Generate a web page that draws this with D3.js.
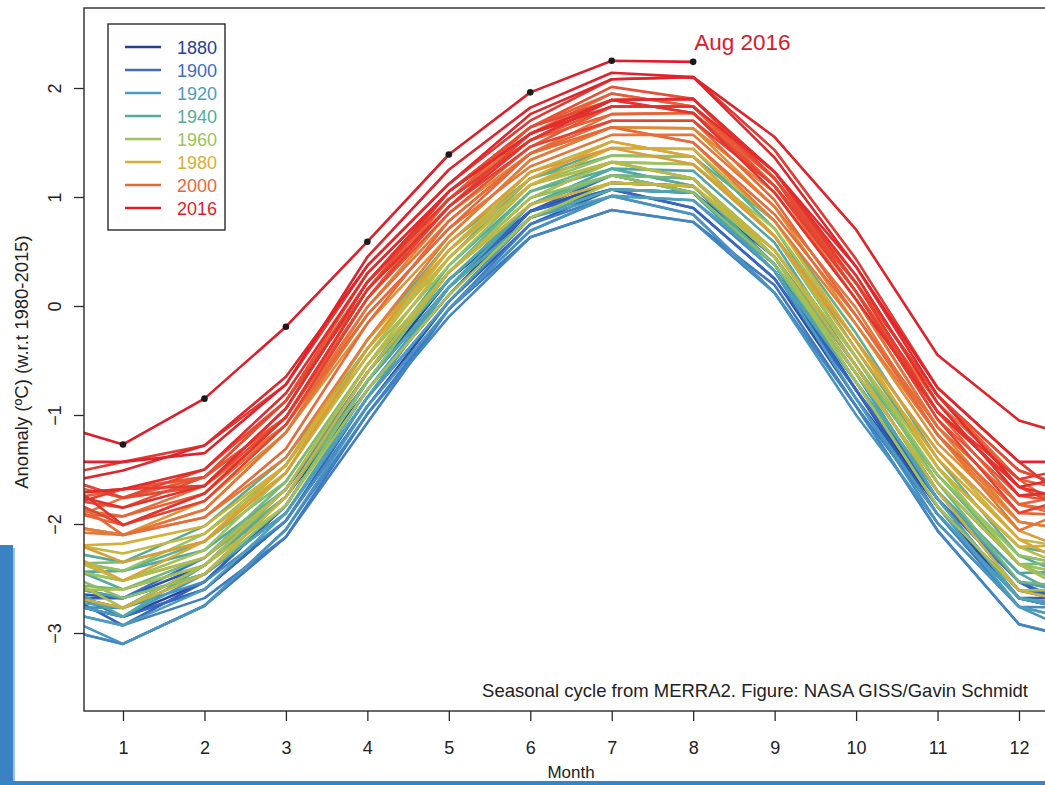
<!DOCTYPE html>
<html>
<head>
<meta charset="utf-8">
<script src="https://cdn.jsdelivr.net/npm/d3@7"></script>
<style>
  body { margin: 0; background: #fff; }
  svg { display: block; font-family: "Liberation Sans", Arial, sans-serif; }
</style>
</head>
<body>
<svg id="chart" width="1045" height="785"></svg>
<script>
// === Data ===
const months = [1, 2, 3, 4, 5, 6, 7, 8, 9, 10, 11, 12];
const yTicks = [-3, -2, -1, 0, 1, 2];

const years = [
  1880, 1883, 1886, 1889, 1892, 1895, 1898, 1901, 1904, 1907, 1910, 1913, 1916, 1919,
  1922, 1925, 1928, 1931, 1934, 1937, 1940, 1943, 1946, 1949, 1952, 1955, 1958, 1961,
  1964, 1967, 1970, 1973, 1976, 1979, 1982, 1985, 1988, 1991, 1994, 1996, 1997, 1998,
  1999, 2000, 2001, 2002, 2003, 2004, 2005, 2006, 2007, 2008, 2009, 2010, 2011, 2012,
  2013, 2014, 2015, 2016
];

// monthly anomaly (ºC), Jan..Dec ; 2016 only up to Aug
const anomalies = [
  [-2.77, -2.38, -1.75, -0.77, 0.10, 0.87, 1.13, 1.10, 0.38, -0.77, -1.84, -2.61],
  [-2.85, -2.53, -1.83, -0.69, 0.24, 0.87, 1.07, 1.04, 0.45, -0.62, -1.77, -2.68],
  [-2.85, -2.60, -1.97, -0.92, 0.04, 0.81, 1.07, 0.90, 0.25, -0.85, -1.84, -2.68],
  [-2.68, -2.38, -1.68, -0.61, 0.24, 0.87, 1.13, 1.10, 0.45, -0.55, -1.70, -2.61],
  [-2.68, -2.46, -1.90, -0.84, 0.04, 0.75, 1.07, 1.04, 0.38, -0.77, -1.91, -2.68],
  [-2.93, -2.53, -1.83, -0.69, 0.17, 0.87, 1.20, 1.04, 0.32, -0.77, -1.77, -2.53],
  [-2.85, -2.60, -1.97, -0.84, 0.17, 0.87, 1.07, 0.90, 0.25, -0.77, -1.77, -2.53],
  [-2.68, -2.31, -1.68, -0.69, 0.17, 0.93, 1.20, 1.17, 0.45, -0.70, -1.77, -2.53],
  [-3.10, -2.75, -2.12, -0.99, -0.03, 0.63, 0.88, 0.77, 0.19, -0.92, -2.06, -2.92],
  [-2.93, -2.68, -2.12, -1.07, -0.03, 0.75, 1.01, 0.84, 0.12, -0.92, -1.91, -2.76],
  [-3.10, -2.75, -2.05, -0.99, -0.10, 0.63, 0.88, 0.77, 0.12, -0.92, -2.06, -2.92],
  [-2.77, -2.53, -1.97, -0.92, -0.03, 0.69, 1.01, 0.97, 0.32, -0.85, -1.99, -2.76],
  [-3.10, -2.75, -2.05, -0.92, -0.03, 0.69, 1.01, 0.84, 0.12, -1.00, -1.99, -2.76],
  [-2.85, -2.46, -1.90, -0.84, 0.04, 0.81, 1.07, 1.04, 0.32, -0.85, -1.91, -2.68],
  [-2.93, -2.60, -1.90, -0.77, 0.17, 0.81, 1.01, 0.97, 0.38, -0.70, -1.84, -2.76],
  [-2.68, -2.46, -1.90, -0.84, 0.17, 0.93, 1.20, 1.04, 0.32, -0.70, -1.70, -2.53],
  [-2.77, -2.46, -1.75, -0.69, 0.17, 0.81, 1.07, 1.04, 0.38, -0.62, -1.77, -2.68],
  [-2.43, -2.24, -1.68, -0.61, 0.24, 0.93, 1.26, 1.24, 0.58, -0.55, -1.70, -2.45],
  [-2.85, -2.38, -1.75, -0.61, 0.24, 0.93, 1.26, 1.10, 0.38, -0.70, -1.70, -2.45],
  [-2.60, -2.38, -1.75, -0.61, 0.37, 1.05, 1.26, 1.10, 0.45, -0.55, -1.55, -2.29],
  [-2.35, -2.02, -1.39, -0.39, 0.44, 1.17, 1.45, 1.44, 0.71, -0.40, -1.48, -2.21],
  [-2.43, -2.16, -1.46, -0.31, 0.58, 1.17, 1.38, 1.37, 0.78, -0.25, -1.40, -2.29],
  [-2.52, -2.31, -1.75, -0.69, 0.31, 1.05, 1.32, 1.17, 0.45, -0.55, -1.55, -2.37],
  [-2.60, -2.31, -1.61, -0.54, 0.31, 0.93, 1.20, 1.17, 0.51, -0.47, -1.62, -2.53],
  [-2.35, -2.16, -1.61, -0.54, 0.31, 0.99, 1.32, 1.30, 0.64, -0.47, -1.62, -2.37],
  [-2.68, -2.46, -1.83, -0.69, 0.31, 0.99, 1.20, 1.04, 0.38, -0.62, -1.62, -2.37],
  [-2.43, -2.09, -1.46, -0.46, 0.37, 1.11, 1.38, 1.37, 0.64, -0.47, -1.55, -2.29],
  [-2.52, -2.24, -1.53, -0.39, 0.51, 1.11, 1.32, 1.30, 0.71, -0.32, -1.48, -2.37],
  [-2.60, -2.38, -1.83, -0.77, 0.10, 0.81, 1.13, 1.10, 0.45, -0.70, -1.84, -2.61],
  [-2.77, -2.38, -1.68, -0.54, 0.31, 0.99, 1.32, 1.17, 0.45, -0.62, -1.62, -2.37],
  [-2.52, -2.31, -1.68, -0.54, 0.44, 1.11, 1.32, 1.17, 0.51, -0.47, -1.48, -2.21],
  [-2.27, -2.09, -1.53, -0.46, 0.51, 1.23, 1.51, 1.37, 0.64, -0.32, -1.33, -2.14],
  [-2.77, -2.46, -1.75, -0.61, 0.31, 0.93, 1.13, 1.10, 0.51, -0.55, -1.70, -2.61],
  [-2.18, -2.02, -1.46, -0.39, 0.44, 1.11, 1.45, 1.44, 0.78, -0.32, -1.48, -2.21],
  [-2.52, -2.16, -1.46, -0.31, 0.51, 1.17, 1.51, 1.37, 0.64, -0.40, -1.40, -2.14],
  [-2.35, -2.16, -1.53, -0.39, 0.58, 1.23, 1.45, 1.30, 0.64, -0.32, -1.33, -2.06],
  [-2.10, -1.79, -1.16, -0.16, 0.64, 1.34, 1.64, 1.63, 0.91, -0.17, -1.26, -1.98],
  [-2.10, -1.87, -1.16, -0.01, 0.85, 1.40, 1.64, 1.63, 1.04, 0.06, -1.11, -1.98],
  [-2.10, -1.94, -1.39, -0.31, 0.64, 1.34, 1.64, 1.50, 0.78, -0.17, -1.18, -1.98],
  [-2.10, -1.87, -1.16, -0.08, 0.71, 1.28, 1.57, 1.57, 0.91, -0.02, -1.18, -2.06],
  [-1.76, -1.65, -1.09, -0.01, 0.78, 1.40, 1.76, 1.77, 1.10, 0.06, -1.11, -1.82],
  [-1.93, -1.65, -0.94, 0.22, 0.98, 1.58, 1.95, 1.83, 1.10, 0.13, -0.89, -1.59],
  [-2.10, -1.94, -1.31, -0.16, 0.78, 1.40, 1.64, 1.50, 0.84, -0.09, -1.11, -1.82],
  [-2.01, -1.72, -1.09, -0.08, 0.71, 1.40, 1.70, 1.70, 0.97, -0.09, -1.18, -1.90],
  [-1.93, -1.72, -1.02, 0.15, 0.98, 1.52, 1.76, 1.77, 1.17, 0.21, -0.97, -1.82],
  [-1.68, -1.57, -1.02, 0.07, 0.98, 1.64, 1.95, 1.83, 1.10, 0.21, -0.82, -1.59],
  [-1.76, -1.57, -0.87, 0.22, 0.98, 1.52, 1.83, 1.83, 1.17, 0.28, -0.89, -1.74],
  [-1.68, -1.57, -1.02, 0.07, 0.85, 1.46, 1.83, 1.83, 1.17, 0.13, -1.04, -1.74],
  [-1.85, -1.57, -0.87, 0.30, 1.05, 1.64, 2.01, 1.90, 1.17, 0.21, -0.82, -1.51],
  [-1.76, -1.65, -1.02, 0.15, 1.05, 1.64, 1.89, 1.77, 1.10, 0.21, -0.82, -1.51],
  [-1.76, -1.50, -0.87, 0.15, 0.91, 1.58, 1.89, 1.90, 1.17, 0.13, -0.97, -1.66],
  [-2.01, -1.79, -1.09, 0.07, 0.91, 1.46, 1.70, 1.70, 1.10, 0.13, -1.04, -1.90],
  [-1.68, -1.65, -0.94, 0.22, 0.98, 1.52, 1.89, 1.90, 1.23, 0.21, -0.97, -1.59],
  [-1.43, -1.28, -0.72, 0.37, 1.12, 1.70, 2.08, 2.10, 1.43, 0.43, -0.75, -1.43],
  [-2.01, -1.72, -1.02, 0.15, 0.91, 1.52, 1.89, 1.77, 1.04, 0.06, -0.97, -1.66],
  [-1.85, -1.65, -0.94, 0.22, 1.05, 1.58, 1.83, 1.83, 1.23, 0.28, -0.89, -1.74],
  [-1.68, -1.50, -0.80, 0.30, 1.05, 1.58, 1.89, 1.90, 1.23, 0.36, -0.82, -1.66],
  [-1.51, -1.28, -0.65, 0.37, 1.12, 1.76, 2.08, 2.10, 1.36, 0.36, -0.75, -1.43],
  [-1.43, -1.35, -0.72, 0.45, 1.25, 1.82, 2.14, 2.10, 1.55, 0.70, -0.45, -1.05],
  [-1.27, -0.85, -0.19, 0.59, 1.39, 1.96, 2.25, 2.24]
];

const legendYears = [1880, 1900, 1920, 1940, 1960, 1980, 2000, 2016];
const legendColors = ['#233f98', '#3a6dc2', '#4c9cbf', '#55ad96', '#9cc45a', '#d8ae36', '#e8673a', '#df1d2a'];
const annotation = 'Aug 2016';
const credit = 'Seasonal cycle from MERRA2. Figure: NASA GISS/Gavin Schmidt';

// === Scales ===
const svg = d3.select('#chart');
const box = { left: 84, top: 8, right: 1062, bottom: 711 };

const x = d3.scaleLinear().domain([1, 12]).range([123, 1019]);
const y = d3.scaleLinear().domain([-3, 2]).range([633, 88]);
const color = d3.scaleLinear().domain(legendYears).range(legendColors).clamp(true);

// page decoration from the scan
svg.append('rect').attr('x', 0).attr('y', 545).attr('width', 13).attr('height', 240).attr('fill', '#3a82c4');
svg.append('rect').attr('x', 13).attr('y', 548).attr('width', 2).attr('height', 237).attr('fill', '#9cc3e6');
svg.append('rect').attr('x', 0).attr('y', 781).attr('width', 1045).attr('height', 4).attr('fill', '#2f86c8');

svg.append('clipPath').attr('id', 'plot-clip')
  .append('rect')
  .attr('x', box.left).attr('y', box.top)
  .attr('width', box.right - box.left).attr('height', box.bottom - box.top);

// === Lines: each year wraps to previous Dec (month 0) and next Jan (month 13) ===
const series = years.map((yr, i) => {
  const row = anomalies[i];
  const pts = [];
  const prevDec = (i > 0 && years[i - 1] === yr - 1) ? anomalies[i - 1][11] : row[row.length - 1];
  pts.push([0, prevDec]);
  row.forEach((v, j) => pts.push([months[j], v]));
  if (row.length === 12) {
    const nextJan = (i < years.length - 1 && years[i + 1] === yr + 1) ? anomalies[i + 1][0] : row[0];
    pts.push([13, nextJan]);
  }
  return { year: yr, pts };
});

const line = d3.line().x(d => x(d[0])).y(d => y(d[1]));

const plot = svg.append('g').attr('clip-path', 'url(#plot-clip)');
plot.selectAll('path.yr')
  .data(series)
  .join('path')
  .attr('class', 'yr')
  .attr('d', d => line(d.pts))
  .attr('fill', 'none')
  .attr('stroke', d => color(d.year))
  .attr('stroke-width', 2.6)
  .attr('stroke-linejoin', 'round');

// dots on the latest year
const last = series[series.length - 1];
plot.selectAll('circle.pt')
  .data(last.pts.filter(d => d[0] >= 1))
  .join('circle')
  .attr('class', 'pt')
  .attr('cx', d => x(d[0]))
  .attr('cy', d => y(d[1]))
  .attr('r', 3.3)
  .attr('fill', '#1a1a1a');

const lastPt = last.pts[last.pts.length - 1];
svg.append('text')
  .attr('x', x(lastPt[0]) + 1)
  .attr('y', y(lastPt[1]) - 12)
  .attr('font-size', 22.5)
  .attr('fill', '#d4202c')
  .text(annotation);

// === Frame and axes ===
svg.append('rect')
  .attr('x', box.left).attr('y', box.top)
  .attr('width', box.right - box.left).attr('height', box.bottom - box.top)
  .attr('fill', 'none').attr('stroke', '#2a2a2a').attr('stroke-width', 1.4);

const yAxis = svg.append('g')
  .attr('transform', `translate(${box.left},0)`)
  .call(d3.axisLeft(y).tickValues(yTicks).tickSize(10).tickFormat(d3.format('d')));
yAxis.select('.domain').remove();
yAxis.selectAll('line').attr('stroke', '#2a2a2a').attr('stroke-width', 1.3);
yAxis.selectAll('text')
  .attr('transform', 'rotate(-90)')
  .attr('x', 0).attr('y', -23).attr('dy', null)
  .attr('text-anchor', 'middle')
  .attr('font-size', 18)
  .attr('fill', '#222');

const xAxis = svg.append('g')
  .attr('transform', `translate(0,${box.bottom})`)
  .call(d3.axisBottom(x).tickValues(months).tickSize(10));
xAxis.select('.domain').remove();
xAxis.selectAll('line').attr('stroke', '#2a2a2a').attr('stroke-width', 1.3);
xAxis.selectAll('text')
  .attr('y', 43).attr('dy', null)
  .attr('font-size', 18)
  .attr('fill', '#222');

svg.append('text')
  .attr('transform', 'translate(28,362) rotate(-90)')
  .attr('text-anchor', 'middle')
  .attr('font-size', 18.5)
  .attr('fill', '#222')
  .text('Anomaly (ºC) (w.r.t 1980-2015)');

svg.append('text')
  .attr('x', 571).attr('y', 778)
  .attr('text-anchor', 'middle')
  .attr('font-size', 17)
  .attr('fill', '#222')
  .text('Month');

svg.append('text')
  .attr('x', 1028).attr('y', 697)
  .attr('text-anchor', 'end')
  .attr('font-size', 18.5)
  .attr('fill', '#222')
  .text(credit);

// === Legend ===
const legend = svg.append('g');
legend.append('rect')
  .attr('x', 108).attr('y', 24).attr('width', 117).attr('height', 206)
  .attr('fill', '#fff').attr('stroke', '#2a2a2a').attr('stroke-width', 1.4);

legendYears.forEach((yr, i) => {
  const ly = 47 + i * 23;
  legend.append('line')
    .attr('x1', 125).attr('x2', 161).attr('y1', ly).attr('y2', ly)
    .attr('stroke', legendColors[i]).attr('stroke-width', 2.4);
  legend.append('text')
    .attr('x', 217).attr('y', ly + 6.5)
    .attr('text-anchor', 'end')
    .attr('font-size', 18)
    .attr('fill', legendColors[i])
    .text(yr);
});
</script>
</body>
</html>
